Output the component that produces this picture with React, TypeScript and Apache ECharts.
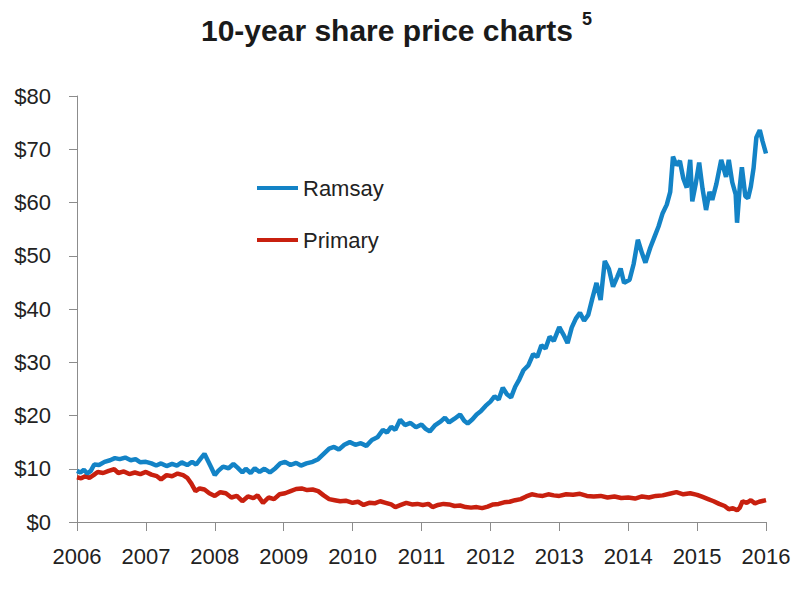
import React, { useEffect, useRef } from "react";
import * as echarts from "echarts";

const titleText = "10-year share price charts";
const titleNote = "5";
const seriesNames = ["Ramsay", "Primary"];
const yTicks = [0, 10, 20, 30, 40, 50, 60, 70, 80];

const ramsayYears = [
  2006.0, 2006.05, 2006.1, 2006.15, 2006.2, 2006.25, 2006.32, 2006.4, 2006.48, 2006.55, 2006.62, 2006.7, 2006.78, 2006.85, 2006.92,
  2007.0, 2007.08, 2007.15, 2007.22, 2007.3, 2007.38, 2007.45, 2007.52, 2007.6, 2007.67, 2007.73, 2007.8, 2007.85, 2007.9, 2007.95,
  2008.0, 2008.05, 2008.12, 2008.2, 2008.27, 2008.33, 2008.4, 2008.45, 2008.52, 2008.58, 2008.65, 2008.72, 2008.8, 2008.88, 2008.95,
  2009.02, 2009.1, 2009.18, 2009.25, 2009.33, 2009.42, 2009.5, 2009.58, 2009.66, 2009.73, 2009.8, 2009.88, 2009.96,
  2010.04, 2010.12, 2010.2, 2010.28, 2010.36, 2010.44, 2010.5, 2010.56, 2010.62, 2010.69, 2010.76, 2010.84, 2010.92,
  2011.0, 2011.06, 2011.12, 2011.2, 2011.28, 2011.34, 2011.4, 2011.48, 2011.56, 2011.62, 2011.67, 2011.74, 2011.8, 2011.86, 2011.93,
  2012.0, 2012.06, 2012.12, 2012.18, 2012.24, 2012.3, 2012.36, 2012.42, 2012.48, 2012.55, 2012.62, 2012.68, 2012.74, 2012.8, 2012.86, 2012.92,
  2013.0, 2013.06, 2013.12, 2013.18, 2013.24, 2013.3, 2013.36, 2013.42, 2013.48, 2013.54, 2013.6, 2013.66, 2013.72, 2013.78, 2013.84, 2013.89, 2013.94,
  2014.02, 2014.08, 2014.14, 2014.2, 2014.25, 2014.32, 2014.38, 2014.44, 2014.5, 2014.56, 2014.61, 2014.65, 2014.7, 2014.75, 2014.8, 2014.85, 2014.9, 2014.93, 2014.98,
  2015.03, 2015.08, 2015.13, 2015.18, 2015.22, 2015.28, 2015.35, 2015.42, 2015.46, 2015.51, 2015.56, 2015.58, 2015.62, 2015.65, 2015.7, 2015.74, 2015.78, 2015.82, 2015.86, 2015.91, 2015.95, 2016.0,
];
const ramsayPrices = [
  9.6, 9.3, 9.8, 9.1, 9.6, 10.8, 10.7, 11.3, 11.6, 12.0, 11.8, 12.1, 11.6, 11.8, 11.2,
  11.3, 11.0, 10.6, 11.0, 10.5, 10.9, 10.6, 11.2, 10.7, 11.3, 10.8, 12.0, 12.8, 11.5, 10.2,
  8.8, 9.6, 10.4, 10.1, 10.9, 10.2, 9.3, 10.0, 9.2, 10.1, 9.4, 10.0, 9.3, 10.1, 11.0,
  11.3, 10.7, 11.1, 10.6, 11.0, 11.3, 11.8, 12.8, 13.8, 14.1, 13.6, 14.5, 15.0,
  14.5, 14.8, 14.3, 15.4, 15.9, 17.3, 16.8, 17.9, 17.3, 19.2, 18.2, 18.6, 17.8,
  18.3, 17.5, 17.0, 18.2, 18.9, 19.6, 18.7, 19.4, 20.2, 19.0, 18.5, 19.3, 20.2, 20.8, 21.8,
  22.6, 23.6, 23.0, 25.2, 24.0, 23.4, 25.4, 26.8, 28.5, 29.4, 31.5, 31.0, 33.2, 32.6, 34.8, 34.0,
  36.6, 35.2, 33.6, 36.5, 38.2, 39.3, 37.8, 38.9, 42.0, 44.9, 41.7, 49.0, 47.5, 44.2, 46.0, 47.6, 44.9,
  45.5, 48.5, 53.0, 50.5, 48.7, 51.5, 53.5, 55.5, 58.0, 59.6, 62.0, 68.6, 67.0, 67.8, 64.5, 62.8, 68.0, 60.2, 63.5,
  67.5, 62.5, 58.6, 62.0, 60.5, 63.5, 68.0, 64.8, 68.0, 63.8, 61.5, 56.2, 63.0, 66.6, 61.2, 60.8, 63.0, 66.5, 72.2, 73.6, 71.5, 69.2,
];

const primaryYears = [
  2006.0, 2006.06, 2006.12, 2006.18, 2006.24, 2006.3, 2006.38, 2006.46, 2006.54, 2006.6, 2006.68, 2006.76, 2006.84, 2006.92,
  2007.0, 2007.08, 2007.16, 2007.22, 2007.3, 2007.38, 2007.46, 2007.54, 2007.6, 2007.66, 2007.72, 2007.78, 2007.85, 2007.92,
  2008.0, 2008.08, 2008.16, 2008.24, 2008.32, 2008.4, 2008.48, 2008.56, 2008.62, 2008.7, 2008.78, 2008.86, 2008.94,
  2009.02, 2009.1, 2009.18, 2009.26, 2009.34, 2009.42, 2009.5, 2009.58, 2009.66, 2009.74, 2009.82, 2009.9,
  2010.0, 2010.08, 2010.16, 2010.24, 2010.32, 2010.4, 2010.48, 2010.56, 2010.62, 2010.7, 2010.78, 2010.86, 2010.94,
  2011.02, 2011.1, 2011.16, 2011.24, 2011.32, 2011.4, 2011.48, 2011.56, 2011.64, 2011.72, 2011.8, 2011.88, 2011.96,
  2012.04, 2012.12, 2012.2, 2012.28, 2012.36, 2012.44, 2012.52, 2012.6, 2012.68, 2012.76, 2012.84, 2012.92,
  2013.0, 2013.1, 2013.2, 2013.3, 2013.4, 2013.5, 2013.6, 2013.7, 2013.8, 2013.9,
  2014.0, 2014.1, 2014.2, 2014.3, 2014.4, 2014.5, 2014.6, 2014.7, 2014.8, 2014.9,
  2015.0, 2015.08, 2015.16, 2015.24, 2015.32, 2015.4, 2015.46, 2015.52, 2015.58, 2015.62, 2015.66, 2015.72, 2015.78, 2015.84, 2015.9, 2016.0,
];
const primaryPrices = [
  8.4, 8.2, 8.6, 8.3, 8.8, 9.4, 9.2, 9.6, 9.9, 9.2, 9.5, 9.0, 9.3, 9.0,
  9.4, 8.9, 8.6, 8.0, 8.8, 8.6, 9.1, 8.8, 8.3, 7.2, 5.8, 6.3, 6.1, 5.4,
  4.9, 5.6, 5.4, 4.6, 4.9, 3.9, 4.8, 4.5, 5.0, 3.6, 4.6, 4.3, 5.2,
  5.4, 5.8, 6.2, 6.3, 6.0, 6.1, 5.8, 5.0, 4.3, 4.1, 3.9, 4.0,
  3.6, 3.8, 3.2, 3.6, 3.5, 3.9, 3.6, 3.3, 2.8, 3.2, 3.6, 3.3, 3.4,
  3.2, 3.4, 2.8, 3.2, 3.4, 3.3, 3.0, 3.1, 2.8, 2.7, 2.8, 2.6, 2.9,
  3.3, 3.4, 3.7, 3.8, 4.1, 4.3, 4.8, 5.2, 5.0, 4.9, 5.2, 5.0,
  4.9, 5.2, 5.1, 5.3, 4.9, 4.8, 4.9, 4.6, 4.8, 4.5,
  4.6, 4.4, 4.8, 4.6, 4.9, 5.0, 5.3, 5.6, 5.2, 5.4,
  5.1, 4.7, 4.3, 3.9, 3.4, 3.0, 2.4, 2.6, 2.2, 2.7, 3.9, 3.6, 4.1, 3.5, 3.8, 4.1,
];

const SANS = '"Liberation Sans", Arial, sans-serif';

export default function App() {
  const ref = useRef<HTMLDivElement>(null);
  useEffect(() => {
    if (!ref.current) return;
    const chart = echarts.init(ref.current, undefined, { renderer: "svg" });
    const zip = (xs: number[], ys: number[]) => xs.map((x, i) => [x, ys[i]]);
    chart.setOption({
      animation: false,
      backgroundColor: "#ffffff",
      graphic: [
        {
          type: "text",
          left: 201,
          top: 15,
          style: { text: titleText, font: `bold 30px ${SANS}`, fill: "#1a1a1a" },
        },
        {
          type: "text",
          left: 582,
          top: 10,
          style: { text: titleNote, font: `bold 18px ${SANS}`, fill: "#1a1a1a" },
        },
      ],
      legend: {
        orient: "vertical",
        left: 252,
        top: 172,
        itemGap: 30,
        itemWidth: 41,
        itemHeight: 4,
        icon: "rect",
        data: seriesNames,
        textStyle: { fontSize: 22, fontFamily: SANS, color: "#222" },
      },
      grid: { left: 77, right: 34, top: 96, bottom: 70 },
      xAxis: {
        type: "value",
        min: 2006,
        max: 2016,
        interval: 1,
        splitLine: { show: false },
        axisLine: { lineStyle: { color: "#8c8c8c", width: 1 } },
        axisTick: { show: true, length: 9, lineStyle: { color: "#8c8c8c" } },
        axisLabel: {
          fontSize: 22,
          fontFamily: SANS,
          color: "#222",
          margin: 23,
          formatter: (v: number) => String(v),
        },
      },
      yAxis: {
        type: "value",
        min: yTicks[0],
        max: yTicks[yTicks.length - 1],
        interval: 10,
        splitLine: { show: false },
        axisLine: { show: true, lineStyle: { color: "#8c8c8c", width: 1 } },
        axisTick: { show: true, length: 8, lineStyle: { color: "#8c8c8c" } },
        axisLabel: {
          fontSize: 22,
          fontFamily: SANS,
          color: "#222",
          margin: 26,
          formatter: (v: number) => "$" + v,
        },
      },
      series: [
        {
          name: seriesNames[0],
          type: "line",
          data: zip(ramsayYears, ramsayPrices),
          showSymbol: false,
          symbol: "none",
          lineStyle: { color: "#1383c6", width: 4.5 },
          itemStyle: { color: "#1383c6" },
          z: 3,
        },
        {
          name: seriesNames[1],
          type: "line",
          data: zip(primaryYears, primaryPrices),
          showSymbol: false,
          symbol: "none",
          lineStyle: { color: "#c8200f", width: 4.5 },
          itemStyle: { color: "#c8200f" },
          z: 2,
        },
      ],
    });
    return () => chart.dispose();
  }, []);
  return (
    <div
      ref={ref}
      style={{ position: "fixed", left: 0, top: 0, width: 800, height: 592 }}
    />
  );
}
